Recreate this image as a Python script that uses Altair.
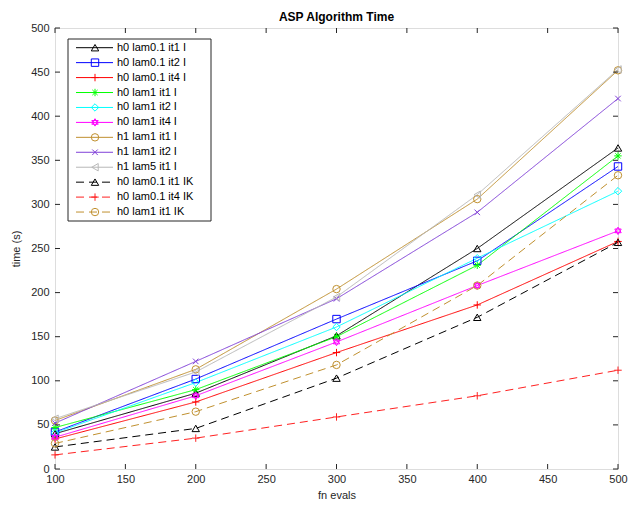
import altair as alt
import pandas as pd

x_vals = [100, 200, 300, 400, 500]

series_names = [
    "h0 lam0.1 it1 I", "h0 lam0.1 it2 I", "h0 lam0.1 it4 I",
    "h0 lam1 it1 I", "h0 lam1 it2 I", "h0 lam1 it4 I",
    "h1 lam1 it1 I", "h1 lam1 it2 I", "h1 lam5 it1 I",
    "h0 lam0.1 it1 IK", "h0 lam0.1 it4 IK", "h0 lam1 it1 IK",
]

s_h0_l01_it1_I = [40, 86, 151, 250, 364]
s_h0_l01_it2_I = [42, 102, 170, 236, 343]
s_h0_l01_it4_I = [34, 76, 132, 186, 258]
s_h0_l1_it1_I = [47, 90, 150, 231, 355]
s_h0_l1_it2_I = [41, 98, 161, 239, 315]
s_h0_l1_it4_I = [36, 83, 144, 208, 270]
s_h1_l1_it1_I = [55, 113, 204, 306, 452]
s_h1_l1_it2_I = [52, 122, 193, 291, 420]
s_h1_l5_it1_I = [57, 110, 195, 311, 453]
s_h0_l01_it1_IK = [25, 46, 103, 172, 257]
s_h0_l01_it4_IK = [16, 35, 59, 83, 112]
s_h0_l1_it1_IK = [29, 65, 118, 208, 333]

series_values = [
    s_h0_l01_it1_I, s_h0_l01_it2_I, s_h0_l01_it4_I,
    s_h0_l1_it1_I, s_h0_l1_it2_I, s_h0_l1_it4_I,
    s_h1_l1_it1_I, s_h1_l1_it2_I, s_h1_l5_it1_I,
    s_h0_l01_it1_IK, s_h0_l01_it4_IK, s_h0_l1_it1_IK,
]

colors = ["#000000", "#0000ff", "#ff0000", "#00ff00", "#00ffff", "#ff00ff",
          "#c0902f", "#8040d8", "#b8b8b8", "#000000", "#ff2020", "#c0902f"]

PLUS = "M-1,0L1,0M0,-1L0,1"
STAR = "M-1,0L1,0M0,-1L0,1M-0.7,-0.7L0.7,0.7M-0.7,0.7L0.7,-0.7"
XMARK = "M-0.75,-0.75L0.75,0.75M-0.75,0.75L0.75,-0.75"
HEXA = "M0,-1L0.866,0.5L-0.866,0.5ZM0,1L0.866,-0.5L-0.866,-0.5Z"
shapes = ["triangle-up", "square", PLUS, STAR, "diamond", HEXA,
          "circle", XMARK, "triangle-left", "triangle-up", PLUS, "circle"]
solid = [1, 0]
dash = [8, 5]
dashes = [solid] * 9 + [dash] * 3

W, H = 563, 441
X0, X1 = 100, 500
Y0, Y1 = 0, 500

rows = []
for i, (name, vals) in enumerate(zip(series_names, series_values)):
    for xv, yv in zip(x_vals, vals):
        rows.append({"series": name, "order": i, "x": xv, "y": yv})
df = pd.DataFrame(rows)

def px_to_x(px):
    return X0 + px * (X1 - X0) / W

def py_to_y(py):
    return Y1 - py * (Y1 - Y0) / H

# legend layout (in pixels within the plot area, converted to data units)
leg_rows = []
for i, name in enumerate(series_names):
    py = 19.7 + 14.94 * i
    leg_rows.append({"series": name, "order": i,
                     "xa": px_to_x(21), "xb": px_to_x(58), "xm": px_to_x(40),
                     "xt": px_to_x(62), "y": py_to_y(py)})
leg = pd.DataFrame(leg_rows)
box = pd.DataFrame([{"x": px_to_x(13), "x2": px_to_x(156),
                     "y": py_to_y(11), "y2": py_to_y(193)}])

xs = alt.Scale(domain=[X0, X1], nice=False, zero=False)
ys = alt.Scale(domain=[Y0, Y1], nice=False, zero=False)
col = alt.Color("series:N", scale=alt.Scale(domain=series_names, range=colors), legend=None)
dsh = alt.StrokeDash("series:N", scale=alt.Scale(domain=series_names, range=dashes), legend=None)
shp = alt.Shape("series:N", scale=alt.Scale(domain=series_names, range=shapes), legend=None)

x_ticks = list(range(100, 501, 50))
y_ticks = list(range(0, 501, 50))

axis_common = dict(grid=False, ticks=False, tickSize=0, domain=False, labelFlush=False,
                   labelFont="Liberation Sans", labelFontSize=11, labelColor="#262626",
                   titleFont="Liberation Sans", titleFontSize=11, titleColor="#262626",
                   titleFontWeight="normal", labelOverlap=False)

base = alt.Chart(df)
lines = base.mark_line(strokeWidth=1).encode(
    x=alt.X("x:Q", scale=xs, axis=alt.Axis(values=x_ticks, title="fn evals",
                                            labelPadding=4, titlePadding=5, **axis_common)),
    y=alt.Y("y:Q", scale=ys, axis=alt.Axis(values=y_ticks, title="time (s)",
                                            labelPadding=6, titlePadding=9, **axis_common)),
    color=col, strokeDash=dsh, detail="series:N", order="order:O",
)
points = base.mark_point(filled=False, size=55, strokeWidth=1, opacity=1).encode(
    x=alt.X("x:Q", scale=xs), y=alt.Y("y:Q", scale=ys), color=col, shape=shp,
)

xt_df = pd.DataFrame({"t": x_ticks})
yt_df = pd.DataFrame({"t": y_ticks})
tick_col = "#262626"
xt_bot = alt.Chart(xt_df).mark_rule(color=tick_col, strokeWidth=1).encode(
    x=alt.X("t:Q", scale=xs), y=alt.value(H), y2=alt.value(H - 5))
xt_top = alt.Chart(xt_df).mark_rule(color=tick_col, strokeWidth=1).encode(
    x=alt.X("t:Q", scale=xs), y=alt.value(0), y2=alt.value(5))
yt_left = alt.Chart(yt_df).mark_rule(color=tick_col, strokeWidth=1).encode(
    y=alt.Y("t:Q", scale=ys), x=alt.value(0), x2=alt.value(5))
yt_right = alt.Chart(yt_df).mark_rule(color=tick_col, strokeWidth=1).encode(
    y=alt.Y("t:Q", scale=ys), x=alt.value(W), x2=alt.value(W - 5))

leg_box = alt.Chart(box).mark_rect(fill="white", stroke="#262626", strokeWidth=1).encode(
    x=alt.X("x:Q", scale=xs), x2="x2:Q", y=alt.Y("y:Q", scale=ys), y2="y2:Q")
leg_lines = alt.Chart(leg).mark_rule(strokeWidth=1).encode(
    x=alt.X("xa:Q", scale=xs), x2="xb:Q", y=alt.Y("y:Q", scale=ys), color=col, strokeDash=dsh)
leg_pts = alt.Chart(leg).mark_point(filled=False, size=55, strokeWidth=1, opacity=1).encode(
    x=alt.X("xm:Q", scale=xs), y=alt.Y("y:Q", scale=ys), color=col, shape=shp)
leg_text = alt.Chart(leg).mark_text(align="left", baseline="middle", fontSize=11,
                                     font="Liberation Sans", color="#000000").encode(
    x=alt.X("xt:Q", scale=xs), y=alt.Y("y:Q", scale=ys), text="series:N")

chart = alt.layer(
    lines, points, xt_bot, xt_top, yt_left, yt_right,
    leg_box, leg_lines, leg_pts, leg_text,
).properties(
    width=W, height=H,
    title=alt.TitleParams("ASP Algorithm Time", fontSize=12, fontWeight="bold",
                          font="Liberation Sans", color="#000000", anchor="middle", offset=-2),
    autosize=alt.AutoSizeParams(type="none"),
    padding={"left": 55, "top": 28, "right": 10, "bottom": 39},
).configure_view(
    stroke="#262626", strokeWidth=1
).configure(background="white")

chart.save("out.html", embed_options={"renderer": "svg", "actions": False})
